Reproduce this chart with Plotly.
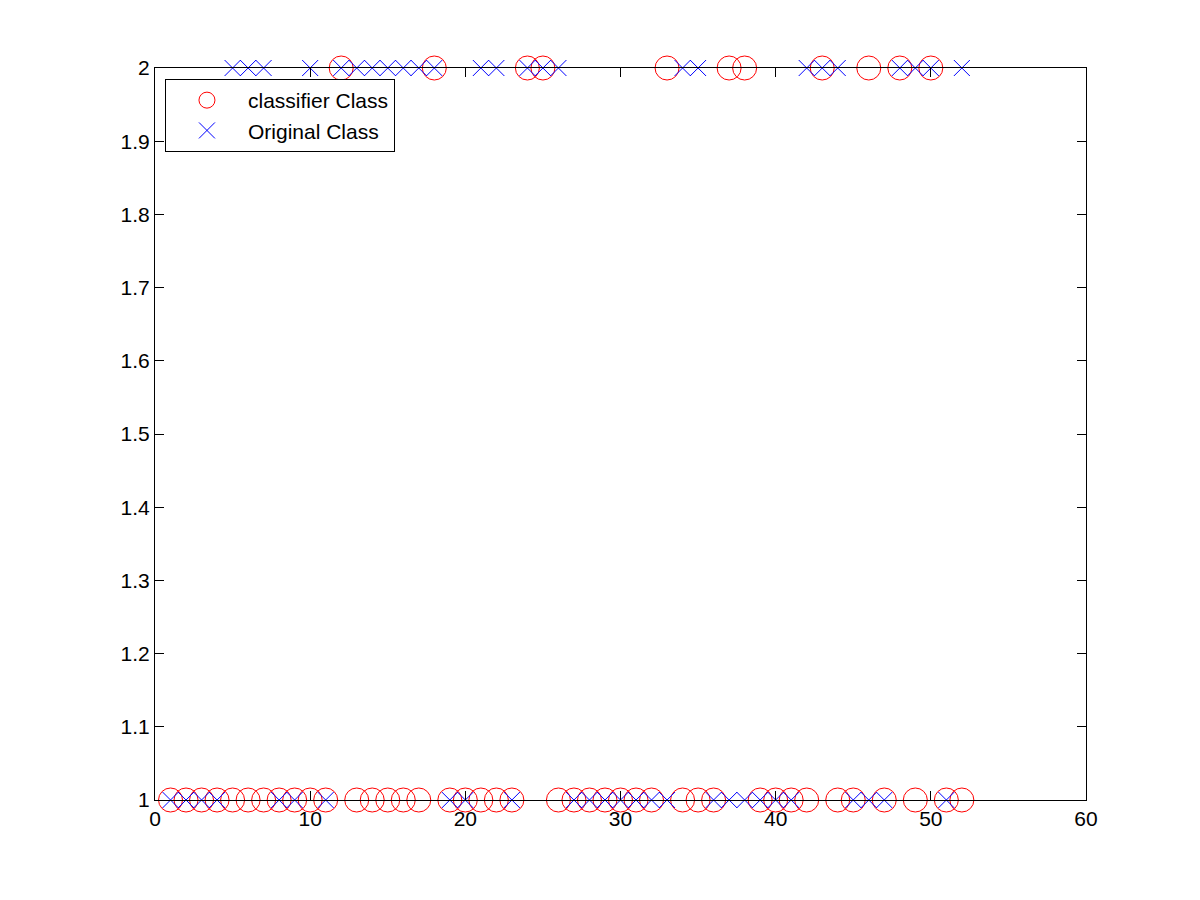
import plotly.graph_objects as go

# Sample index 1..52
sample_index = list(range(1, 53))

classifier_class = [1, 1, 1, 1, 1, 1, 1, 1, 1, 1,
                    1, 2, 1, 1, 1, 1, 1, 2, 1, 1,
                    1, 1, 1, 2, 2, 1, 1, 1, 1, 1,
                    1, 1, 2, 1, 1, 1, 2, 2, 1, 1,
                    1, 1, 2, 1, 1, 2, 1, 2, 1, 2,
                    1, 1]

original_class = [1, 1, 1, 1, 2, 2, 2, 1, 1, 2,
                  1, 2, 2, 2, 2, 2, 2, 2, 1, 1,
                  2, 2, 1, 2, 2, 2, 1, 1, 1, 1,
                  1, 1, 1, 2, 2, 1, 1, 1, 1, 1,
                  1, 2, 2, 2, 1, 1, 1, 2, 2, 2,
                  1, 2]

x_ticks = [0, 10, 20, 30, 40, 50, 60]
y_ticks = [1.0, 1.1, 1.2, 1.3, 1.4, 1.5, 1.6, 1.7, 1.8, 1.9, 2.0]
y_tick_labels = ["1", "1.1", "1.2", "1.3", "1.4", "1.5", "1.6", "1.7", "1.8", "1.9", "2"]

FONT = "Liberation Sans, Arial, Helvetica, sans-serif"

fig = go.Figure()
fig.add_trace(go.Scatter(
    x=sample_index, y=classifier_class, mode="markers", name="classifier Class",
    marker=dict(symbol="circle-open", size=24, color="#ff0000", line=dict(width=1, color="#ff0000")),
    cliponaxis=False,
))
fig.add_trace(go.Scatter(
    x=sample_index, y=original_class, mode="markers", name="Original Class",
    marker=dict(symbol="x-thin-open", size=16, color="#0000ff", line=dict(width=1, color="#0000ff")),
    cliponaxis=False,
))

axis_common = dict(
    showline=True, linecolor="black", linewidth=1, mirror="ticks",
    ticks="inside", ticklen=9, tickcolor="black", tickwidth=1,
    showgrid=False, zeroline=False,
    tickfont=dict(family=FONT, size=21, color="black"),
)

fig.update_xaxes(range=[0, 60], tickvals=x_ticks, ticktext=[str(v) for v in x_ticks], **axis_common)
fig.update_yaxes(range=[1, 2], tickvals=y_ticks, ticktext=y_tick_labels, **axis_common)

fig.update_layout(
    width=1200, height=900,
    margin=dict(l=155, r=114, t=68, b=100),
    paper_bgcolor="white", plot_bgcolor="white",
    font=dict(family=FONT, size=21, color="black"),
    showlegend=True,
    legend=dict(
        x=0.0107, y=0.985, xanchor="left", yanchor="top",
        bgcolor="white", bordercolor="black", borderwidth=1,
        font=dict(family=FONT, size=21, color="black"),
        itemsizing="trace", itemwidth=72,
        tracegroupgap=0,
    ),
)

fig.write_html("out.html")
